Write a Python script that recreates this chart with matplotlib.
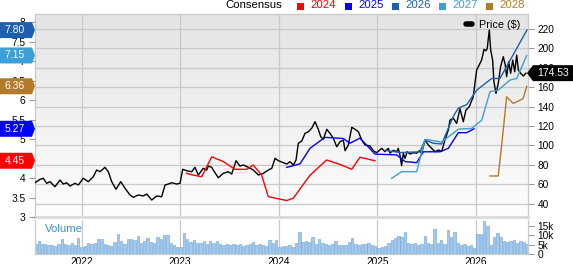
import numpy as np
import matplotlib
matplotlib.use("Agg")
import matplotlib.pyplot as plt
from matplotlib.path import Path
from matplotlib.patches import Rectangle
from matplotlib.colors import LinearSegmentedColormap

plt.rcParams['font.family'] = ['Liberation Sans', 'DejaVu Sans']

# ---------------- data ----------------
price_t = [2021.526, 2021.577, 2021.610, 2021.645, 2021.678, 2021.729, 2021.780, 2021.813, 2021.848,
           2021.881, 2021.932, 2021.966, 2022.016, 2022.067, 2022.118, 2022.152, 2022.186, 2022.236,
           2022.270, 2022.305, 2022.348, 2022.396, 2022.440, 2022.490, 2022.524, 2022.575, 2022.626,
           2022.660, 2022.711, 2022.762, 2022.812, 2022.846, 2022.880, 2022.914, 2022.965, 2022.998,
           2023.026, 2023.066, 2023.117, 2023.150, 2023.184, 2023.235, 2023.269, 2023.286, 2023.320,
           2023.336, 2023.387, 2023.438, 2023.488, 2023.523, 2023.567, 2023.607, 2023.641, 2023.692,
           2023.743, 2023.793, 2023.844, 2023.895, 2023.930, 2023.963, 2023.997, 2024.048, 2024.082,
           2024.115, 2024.149, 2024.176, 2024.199, 2024.234, 2024.267, 2024.301, 2024.335, 2024.369,
           2024.402, 2024.427, 2024.453, 2024.488, 2024.521, 2024.555, 2024.589, 2024.623, 2024.656,
           2024.674, 2024.707, 2024.742, 2024.775, 2024.809, 2024.843, 2024.877, 2024.927, 2024.961,
           2024.995, 2025.046, 2025.079, 2025.113, 2025.130, 2025.164, 2025.198, 2025.214, 2025.231,
           2025.248, 2025.265, 2025.282, 2025.305, 2025.333, 2025.366, 2025.401, 2025.427, 2025.452,
           2025.485, 2025.519, 2025.553, 2025.587, 2025.620, 2025.655, 2025.688, 2025.722, 2025.739,
           2025.773, 2025.807, 2025.840, 2025.874, 2025.901, 2025.935, 2025.975, 2026.010, 2026.036,
           2026.060, 2026.084, 2026.104, 2026.117, 2026.138, 2026.152, 2026.172, 2026.185, 2026.206,
           2026.229, 2026.253, 2026.280, 2026.300, 2026.314, 2026.335, 2026.355, 2026.376, 2026.396,
           2026.416, 2026.433, 2026.457, 2026.483, 2026.510]
price_v = [61.6, 65.1, 66.2, 61.0, 62.7, 57.5, 64.4, 60.3, 61.6,
           58.2, 61.0, 59.3, 66.2, 62.7, 67.8, 74.7, 73.0, 77.5,
           73.0, 62.7, 54.8, 62.7, 55.9, 49.0, 46.6, 49.0, 48.0,
           50.0, 43.8, 48.0, 47.2, 59.3, 60.3, 61.6, 60.3, 61.0,
           75.5, 74.0, 73.0, 77.5, 69.6, 76.5, 74.7, 78.8, 77.5,
           74.7, 66.8, 71.3, 73.0, 70.6, 84.3, 78.8, 79.9, 77.5,
           74.7, 69.6, 71.3, 74.7, 76.5, 86.8, 84.3, 82.3, 80.9,
           83.3, 79.9, 85.0, 102.2, 104.6, 112.5, 114.2, 117.7, 124.5,
           116.7, 109.0, 106.4, 116.7, 112.5, 107.4, 98.7, 103.9, 105.6,
           94.6, 100.5, 118.7, 116.7, 114.2, 105.6, 100.5, 99.5, 94.6,
           92.6, 97.1, 93.6, 97.1, 92.0, 95.0, 93.6, 97.1, 90.2,
           79.2, 92.0, 86.8, 93.6, 91.2, 92.6, 92.0, 94.6, 92.0,
           105.6, 100.5, 97.1, 93.6, 95.3, 94.0, 105.6, 116.0, 126.2,
           128.0, 122.8, 138.0, 124.5, 136.5, 140.0, 150.2, 177.8, 183.0,
           188.0, 199.0, 197.6, 200.0, 219.0, 198.4, 188.0, 165.7, 153.7,
           164.0, 181.2, 191.5, 183.0, 170.9, 186.3, 174.4, 188.0, 176.0,
           193.2, 177.8, 174.4, 171.6, 174.53]

eps2024_t = [2023.066, 2023.099, 2023.218, 2023.320, 2023.437, 2023.556, 2023.675, 2023.742, 2023.827,
             2023.894, 2024.081, 2024.148, 2024.318, 2024.487, 2024.639, 2024.741, 2024.825, 2024.978]
eps2024_v = [4.13, 4.10, 4.04, 4.55, 4.43, 4.23, 4.23, 4.34, 4.08,
             3.53, 3.43, 3.49, 4.08, 4.47, 4.34, 4.23, 4.54, 4.45]

eps2025_t = [2024.081, 2024.216, 2024.318, 2024.470, 2024.656, 2024.724, 2024.825, 2024.978, 2025.198,
             2025.282, 2025.401, 2025.468, 2025.638, 2025.722, 2025.824, 2025.909, 2025.983]
eps2025_v = [4.28, 4.37, 4.77, 5.05, 5.02, 4.90, 5.03, 4.62, 4.60,
             4.43, 4.40, 4.68, 4.68, 4.77, 5.17, 5.17, 5.27]

eps2026_t = [2025.079, 2025.231, 2025.434, 2025.485, 2025.569, 2025.655, 2025.773, 2025.824, 2025.909,
             2026.010, 2026.162, 2026.246, 2026.520]
eps2026_v = [4.72, 4.66, 4.68, 4.98, 4.90, 4.88, 5.59, 5.80, 5.89,
             6.26, 6.56, 6.56, 7.80]

eps2027_t = [2025.147, 2025.249, 2025.401, 2025.485, 2025.655, 2025.824, 2025.960, 2026.061, 2026.145,
             2026.229, 2026.348, 2026.416, 2026.518]
eps2027_v = [4.00, 4.17, 4.17, 5.00, 4.93, 5.26, 5.28, 5.49, 6.22,
             6.26, 6.52, 6.56, 7.15]

eps2028_t = [2026.145, 2026.229, 2026.280, 2026.314, 2026.381, 2026.449, 2026.483, 2026.518]
eps2028_v = [4.06, 4.06, 5.24, 6.09, 5.92, 6.00, 6.05, 6.36]

# volume (thousands), roughly bi-weekly bars
vol_start = 2021.53
vol_step = 0.0335
vol_k = [5.2, 7.0, 5.3, 5.3, 5.0, 4.8, 4.5, 5.5, 8.0, 5.5, 5.0, 5.8, 4.8, 8.8, 4.0,
         4.5, 5.8, 5.5, 6.0, 7.8, 8.0, 5.5, 4.8, 4.2, 6.3, 10.7, 7.0, 5.5, 7.8, 8.0,
         7.5, 9.7, 6.0, 7.0, 8.4, 6.5, 6.0, 9.3, 8.0, 10.2, 10.2, 6.0, 5.0, 3.6, 4.0,
         11.0, 8.0, 6.5, 7.5, 6.0, 5.8, 7.0, 5.5, 7.0, 6.0, 7.2, 5.5, 5.0, 5.2, 4.8,
         5.5, 5.0, 5.3, 4.5, 5.0, 5.5, 6.3, 4.8, 5.5, 5.0, 4.5, 7.5, 6.0, 7.5, 3.8,
         4.2, 4.5, 5.0, 3.5, 6.0, 11.6, 6.6, 6.8, 6.6, 9.3, 5.5, 8.0, 6.0, 5.5, 5.0,
         5.5, 7.0, 5.0, 4.8, 5.0, 6.5, 8.4, 5.3, 5.0, 5.5, 5.3, 5.7, 5.0, 4.5, 3.0,
         3.5, 4.5, 6.0, 7.5, 8.5, 9.7, 9.3, 12.0, 6.0, 5.5, 6.0, 5.0, 5.5, 9.7, 6.0,
         5.5, 13.4, 5.8, 7.5, 5.5, 12.9, 9.3, 12.0, 6.0, 5.0, 5.5, 4.5, 5.0, 3.0, 10.5,
         10.5, 17.9, 15.0, 4.8, 9.3, 11.5, 9.3, 7.0, 6.5, 7.0, 7.5, 6.0, 7.0, 6.5, 5.5]

years = [2022, 2023, 2024, 2025, 2026]
price_ticks = [40, 60, 80, 100, 120, 140, 160, 180, 200, 220]
eps_ticks = [3, 3.5, 4, 4.5, 5, 5.5, 6, 6.5, 7, 7.5, 8]
eps_labels = ['3', '3.5', '4', '4.5', '5', '5.5', '6', '6.5', '7', '7.5', '8']
vol_ticks = [0, 5000, 10000, 15000]
vol_labels = ['0', '5k', '10k', '15k']
series_names = ['2024', '2025', '2026', '2027', '2028']
last_price = 174.53
last_eps = [4.45, 5.27, 7.80, 7.15, 6.36]

# ---------------- styles ----------------
C24, C25, C26, C27, C28 = '#ff0000', '#0000ff', '#1f5fb2', '#3c9fd6', '#b27b2c'
colors = [C24, C25, C26, C27, C28]
GRID = '#c9c9c9'
TICKFS = 7.3

W, H = 573, 264
def fx(p): return p / W
def fy(p): return 1 - p / H

fig = plt.figure(figsize=(W / 100, H / 100), dpi=100)
fig.patch.set_facecolor('white')

xmin, xmax = 2021.526, 2026.531

# main price axes (primary, ticks on right)
ax = fig.add_axes([fx(35), fy(217.3), fx(528) - fx(35), fy(14) - fy(217.3)])
cm = LinearSegmentedColormap.from_list('bg', ['#fdfdfd', '#e4e4e4'])
grad = np.linspace(0, 1, 256).reshape(-1, 1)
ax.imshow(grad, extent=[0, 1, 0, 1], transform=ax.transAxes, cmap=cm,
          aspect='auto', origin='lower', zorder=-10)
ax.set_axisbelow(True)
ax.plot(price_t, price_v, color='black', lw=1.0, zorder=3)
ax.set_xlim(xmin, xmax)
ax.set_ylim(26.0, 235.5)
ax.set_xticks(years)
ax.tick_params(axis='x', length=0, labelbottom=False)
ax.grid(True, color=GRID, lw=0.9)
for s in ax.spines.values():
    s.set_color(GRID)
    s.set_linewidth(0.9)
ax.spines['bottom'].set_color('#dcdcdc')
ax.spines['bottom'].set_linewidth(2.2)

# EPS axes (twin, ticks on left)
axe = ax.twinx()
axe.set_ylim(3.0, 8.213)
axe.yaxis.tick_left()
axe.set_yticks(eps_ticks)
axe.set_yticklabels(eps_labels)
axe.tick_params(axis='y', left=True, right=False, labelleft=True, labelright=False,
                length=4.5, width=0.8, color='#9a9a9a', labelsize=TICKFS, pad=2.5)
for s in axe.spines.values():
    s.set_visible(False)

# price ticks back on the right (twinx moved them left)
ax.yaxis.tick_right()
ax.set_yticks(price_ticks)
ax.set_yticklabels([str(v) for v in price_ticks])
ax.tick_params(axis='y', left=False, right=True, labelleft=False, labelright=True,
               length=4.5, width=0.8, color='#9a9a9a', labelsize=TICKFS, pad=2.5)

# price legend
ax.plot([0.874, 0.887], [0.949, 0.949], transform=ax.transAxes, color='black',
        lw=4.0, solid_capstyle='round', zorder=5)
ax.text(0.9006, 0.946, 'Price ($)', transform=ax.transAxes, fontsize=7.8,
        ha='left', va='center', zorder=5)

for t, v, c in zip([eps2024_t, eps2025_t, eps2026_t, eps2027_t, eps2028_t],
                   [eps2024_v, eps2025_v, eps2026_v, eps2027_v, eps2028_v], colors):
    axe.plot(t, v, color=c, lw=1.0, zorder=3)


def right_tag(x0, y0, width, height, mutation_size):
    cy = y0 + height / 2
    hh = 8
    right = x0 + width + 7
    tip = x0 + width + 10
    left = x0 - 40
    verts = [(left, cy - hh), (right, cy - hh), (tip, cy), (right, cy + hh),
             (left, cy + hh), (left, cy - hh)]
    codes = [Path.MOVETO] + [Path.LINETO] * 4 + [Path.CLOSEPOLY]
    return Path(verts, codes)


def left_tag(x0, y0, width, height, mutation_size):
    cy = y0 + height / 2
    hh = 8
    left = x0 - 4
    tip = x0 - 10
    right = x0 + width + 60
    verts = [(tip, cy), (left, cy - hh), (right, cy - hh), (right, cy + hh),
             (left, cy + hh), (tip, cy)]
    codes = [Path.MOVETO] + [Path.LINETO] * 4 + [Path.CLOSEPOLY]
    return Path(verts, codes)


for v, c in zip(last_eps, colors):
    axe.annotate(f'{v:.2f}', xy=(0, v), xycoords=('axes fraction', 'data'),
                 xytext=(-10, 0), textcoords='offset pixels', ha='right', va='center',
                 color='white', fontsize=7.5, annotation_clip=False, zorder=20,
                 bbox=dict(boxstyle=right_tag, fc=c, ec='none'))

axe.annotate(f'{last_price:.2f}', xy=(1, last_price), xycoords=('axes fraction', ax.transData),
             xytext=(9, 0), textcoords='offset pixels', ha='left', va='center',
             color='white', fontsize=7.5, annotation_clip=False, zorder=20,
             bbox=dict(boxstyle=left_tag, fc='black', ec='none'))

# volume axes
axv = fig.add_axes([fx(35), fy(254), fx(528) - fx(35), fy(219.5) - fy(254)])
vol_t = vol_start + vol_step * np.arange(len(vol_k))
axv.bar(vol_t, np.array(vol_k) * 1000, width=0.024, color='#a6c9ea',
        edgecolor='#64a2da', linewidth=0.4, zorder=2)
axv.set_xlim(xmin, xmax)
axv.set_ylim(0, 18500)
axv.set_xticks(years)
axv.set_xticklabels([str(y) for y in years])
axv.yaxis.tick_right()
axv.set_yticks(vol_ticks)
axv.set_yticklabels(vol_labels)
axv.tick_params(axis='x', length=0, labelsize=TICKFS, pad=2)
axv.tick_params(axis='y', right=True, length=4.5, width=0.8, color='#9a9a9a',
                labelsize=TICKFS, pad=2.5)
axv.grid(True, axis='x', color=GRID, lw=0.9, zorder=0)
axv.set_axisbelow(True)
for s in axv.spines.values():
    s.set_color(GRID)
    s.set_linewidth(0.9)
axv.spines['top'].set_visible(False)
axv.text(0.02, 0.72, 'Volume', transform=axv.transAxes, color='#3d8fd4',
         fontsize=8.2, ha='left', va='center')

# header legend
fig.text(fx(225), fy(5.5), 'Consensus', fontsize=8.2, ha='left', va='center', color='black')
sq_x = [297, 345, 392, 439, 486]
for x, c, name in zip(sq_x, colors, series_names):
    fig.patches.append(Rectangle((fx(x), fy(9.5)), 7 / W, 7 / H, transform=fig.transFigure,
                                 facecolor=c, edgecolor='none'))
    fig.text(fx(x + 13), fy(5.5), name, fontsize=8.2, ha='left', va='center', color=c)

fig.savefig('out.png', dpi=100)
